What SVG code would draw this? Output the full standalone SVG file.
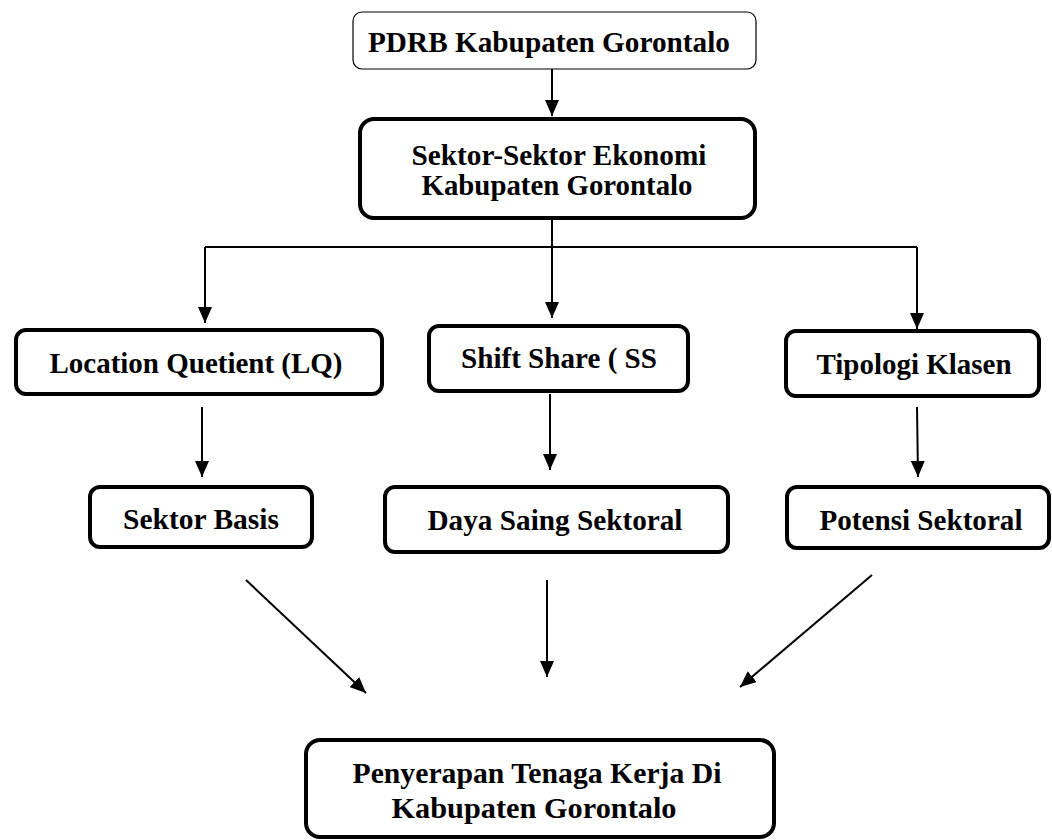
<svg xmlns="http://www.w3.org/2000/svg" width="1052" height="840" viewBox="0 0 1052 840">
<style>
.box{fill:#fff;stroke:#000;stroke-width:4}
.thin{fill:#fff;stroke:#000;stroke-width:1.2}
.t{font-family:"Liberation Serif","Times New Roman",serif;font-weight:bold;font-size:29px;fill:#000;text-anchor:middle}
.c{fill:none;stroke:#000;stroke-width:2}
</style>
<defs>
<marker id="ahl" markerWidth="16" markerHeight="14" refX="16" refY="7" orient="auto" markerUnits="userSpaceOnUse">
<path d="M0,0 L16,7 L0,14 Z" fill="#000"/>
</marker>
</defs>
<rect width="1052" height="840" fill="#fff"/>
<g id="connectors">
<line class="c" x1="552" y1="69" x2="552" y2="116" marker-end="url(#ahl)"/>
<line class="c" x1="552" y1="219" x2="552" y2="318" marker-end="url(#ahl)"/>
<line class="c" x1="205" y1="247" x2="917" y2="247" stroke-width="1.5"/>
<line class="c" x1="205" y1="247" x2="205" y2="323" marker-end="url(#ahl)"/>
<line class="c" x1="917" y1="247" x2="917" y2="329" marker-end="url(#ahl)"/>
<line class="c" x1="202" y1="407" x2="202" y2="477" marker-end="url(#ahl)"/>
<line class="c" x1="550" y1="394" x2="550" y2="470" marker-end="url(#ahl)"/>
<line class="c" x1="917" y1="407" x2="918" y2="477" marker-end="url(#ahl)"/>
<line class="c" x1="246" y1="580" x2="366" y2="693" marker-end="url(#ahl)"/>
<line class="c" x1="547" y1="580" x2="547" y2="677" marker-end="url(#ahl)"/>
<line class="c" x1="872" y1="575" x2="740" y2="687" marker-end="url(#ahl)"/>
</g>
<g id="n1"><rect class="thin" x="353" y="12" width="403" height="57" rx="9"/><text class="t" x="549" y="52" textLength="362" lengthAdjust="spacingAndGlyphs">PDRB Kabupaten Gorontalo</text></g>
<g id="n2"><rect class="box" x="360" y="119" width="395" height="99" rx="14"/><text class="t" x="559" y="165" textLength="295" lengthAdjust="spacingAndGlyphs">Sektor-Sektor Ekonomi</text><text class="t" x="557" y="195" textLength="271" lengthAdjust="spacingAndGlyphs">Kabupaten Gorontalo</text></g>
<g id="n3"><rect class="box" x="16" y="330" width="366" height="64" rx="10"/><text class="t" x="196" y="373" textLength="293" lengthAdjust="spacingAndGlyphs">Location Quetient (LQ)</text></g>
<g id="n4"><rect class="box" x="429" y="326" width="259" height="65" rx="10"/><text class="t" x="559" y="368" textLength="196" lengthAdjust="spacingAndGlyphs">Shift Share ( SS</text></g>
<g id="n5"><rect class="box" x="786" y="331" width="253" height="65" rx="10"/><text class="t" x="914" y="374" textLength="195" lengthAdjust="spacingAndGlyphs">Tipologi Klasen</text></g>
<g id="n6"><rect class="box" x="90" y="487" width="222" height="60" rx="10"/><text class="t" x="201" y="529" textLength="156" lengthAdjust="spacingAndGlyphs">Sektor Basis</text></g>
<g id="n7"><rect class="box" x="385" y="487" width="343" height="65" rx="10"/><text class="t" x="555" y="530" textLength="255" lengthAdjust="spacingAndGlyphs">Daya Saing Sektoral</text></g>
<g id="n8"><rect class="box" x="787" y="487" width="262" height="61" rx="10"/><text class="t" x="921" y="530" textLength="203" lengthAdjust="spacingAndGlyphs">Potensi Sektoral</text></g>
<g id="n9"><rect class="box" x="306" y="740" width="468" height="97" rx="14"/><text class="t" x="537" y="783" textLength="369" lengthAdjust="spacingAndGlyphs">Penyerapan Tenaga Kerja Di</text><text class="t" x="534" y="818" textLength="285" lengthAdjust="spacingAndGlyphs">Kabupaten Gorontalo</text></g>
</svg>
